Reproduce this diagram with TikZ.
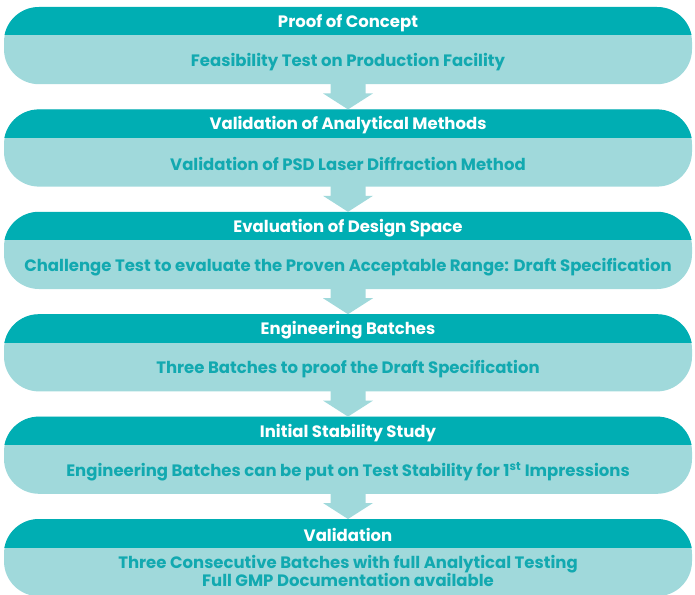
\documentclass[tikz,border=0pt]{standalone}
\usepackage{fontspec}
\setmainfont{Poppins}
\definecolor{darkteal}{HTML}{00AEB3}
\definecolor{lightteal}{HTML}{A0D9DB}
\definecolor{txtteal}{HTML}{12A9B0}
\tikzset{
  stage/.style={draw=none,fill=lightteal,rounded corners=35pt,minimum width=688pt,minimum height=77pt,inner sep=0pt,anchor=north},
  headtxt/.style={text=white,font=\bfseries\fontsize{16.5}{19}\selectfont,inner sep=0pt},
  bodytxt/.style={text=txtteal,font=\bfseries\fontsize{16.5}{18}\selectfont,inner sep=0pt,align=center},
  flowarrow/.style={fill=lightteal,draw=none}
}
\newcommand{\stagebox}[4]{%
  \node[stage] (b#1) at (348,#2) {};
  \begin{scope}
    \clip ([yshift=1pt]b#1.north west) rectangle ([yshift=-28pt]b#1.north east);
    \fill[darkteal,rounded corners=35pt] (b#1.north west) rectangle (b#1.south east);
  \end{scope}
  \node[headtxt] (h#1) at ([yshift=-16pt]b#1.north) {#3};
  \node[bodytxt] (t#1) at ([yshift=-55pt]b#1.north) {#4};
}
\newcommand{\flowarrow}[2]{%
  \fill[flowarrow] ([xshift=-17.5pt,yshift=1pt]b#1.south) -- ([xshift=-17.5pt,yshift=-9pt]b#1.south)
    -- ([xshift=-25pt,yshift=-9pt]b#1.south) -- (b#2.north)
    -- ([xshift=25pt,yshift=-9pt]b#1.south) -- ([xshift=17.5pt,yshift=-9pt]b#1.south)
    -- ([xshift=17.5pt,yshift=1pt]b#1.south) -- cycle;
}
\begin{document}
\begin{tikzpicture}[x=1pt,y=-1pt]
\useasboundingbox (0,0) rectangle (695,594);
\stagebox{1}{7}{Proof of Concept}{Feasibility Test on Production Facility}
\stagebox{2}{109.4}{Validation of Analytical Methods}{Validation of PSD Laser Diffraction Method}
\stagebox{3}{211.8}{Evaluation of Design Space}{Challenge Test to evaluate the Proven Acceptable Range: Draft Specification}
\stagebox{4}{314.2}{Engineering Batches}{Three Batches to proof the Draft Specification}
\stagebox{5}{416.6}{Initial Stability Study}{Engineering Batches can be put on Test Stability for 1\textsuperscript{st} Impressions}
\stagebox{6}{519}{Validation}{}
\node[bodytxt] (t6) at ([yshift=-52pt]b6.north) {Three Consecutive Batches with full Analytical Testing\\Full GMP Documentation available};
\flowarrow{1}{2}
\flowarrow{2}{3}
\flowarrow{3}{4}
\flowarrow{4}{5}
\flowarrow{5}{6}
\end{tikzpicture}
\end{document}
